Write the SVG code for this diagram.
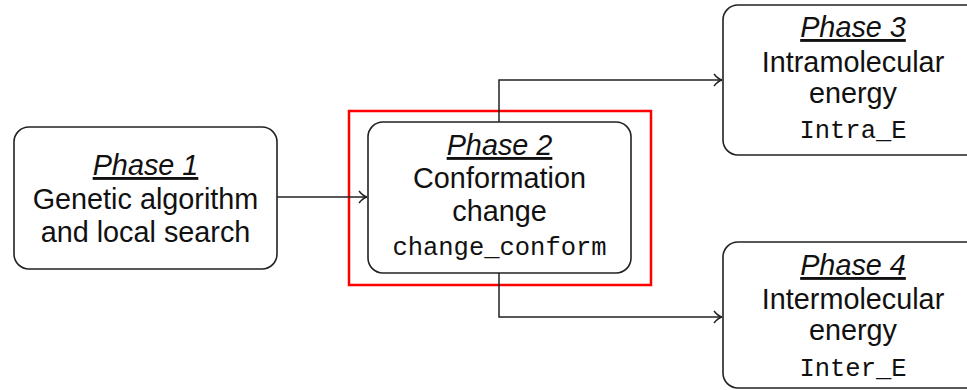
<svg xmlns="http://www.w3.org/2000/svg" width="967" height="390" viewBox="0 0 967 390">
<style>
.box{fill:#fff;stroke:#222;stroke-width:1.6}
.t{font-family:"Liberation Sans",Arial,sans-serif;font-size:28.8px;fill:#111;text-anchor:middle}
.ph{font-style:italic;text-decoration:underline}
.m{font-family:"Liberation Mono","Courier New",monospace;font-size:25.5px;fill:#111;text-anchor:middle}
.c{fill:none;stroke:#222;stroke-width:1.5}
.hl{fill:none;stroke:#f00;stroke-width:2.5}
</style>
<defs>
<marker id="ah" viewBox="0 0 10 14" refX="9" refY="7" markerWidth="10" markerHeight="14" markerUnits="userSpaceOnUse" orient="auto">
<path d="M1,1 Q5,6 9,7 Q5,8 1,13" fill="none" stroke="#222" stroke-width="1.5"/>
</marker>
</defs>
<g id="highlight">
<rect class="hl" x="349" y="111" width="302" height="174"/>
</g>
<g id="connectors">
<path class="c" d="M277,197 H367" marker-end="url(#ah)"/>
<path class="c" d="M499,122 V80 H722" marker-end="url(#ah)"/>
<path class="c" d="M499,273 V317 H722" marker-end="url(#ah)"/>
</g>
<g id="phase1">
<rect class="box" x="14" y="127" width="263" height="142" rx="15"/>
<text class="t ph" x="145.5" y="175">Phase 1</text>
<text class="t" x="145.5" y="209">Genetic algorithm</text>
<text class="t" x="145.5" y="242">and local search</text>
</g>
<g id="phase2">
<rect class="box" x="368" y="122" width="263" height="151" rx="15"/>
<text class="t ph" x="499.5" y="155">Phase 2</text>
<text class="t" x="499.5" y="188">Conformation</text>
<text class="t" x="499.5" y="221">change</text>
<text class="m" x="499.5" y="255">change_conform</text>
</g>
<g id="phase3">
<rect class="box" x="723" y="5" width="262" height="150" rx="15"/>
<text class="t ph" x="853" y="37">Phase 3</text>
<text class="t" x="853" y="72">Intramolecular</text>
<text class="t" x="853" y="103">energy</text>
<text class="m" x="853" y="138">Intra_E</text>
</g>
<g id="phase4">
<rect class="box" x="723" y="242" width="262" height="146" rx="15"/>
<text class="t ph" x="853" y="275">Phase 4</text>
<text class="t" x="853" y="309">Intermolecular</text>
<text class="t" x="853" y="340">energy</text>
<text class="m" x="853" y="376">Inter_E</text>
</g>
</svg>
